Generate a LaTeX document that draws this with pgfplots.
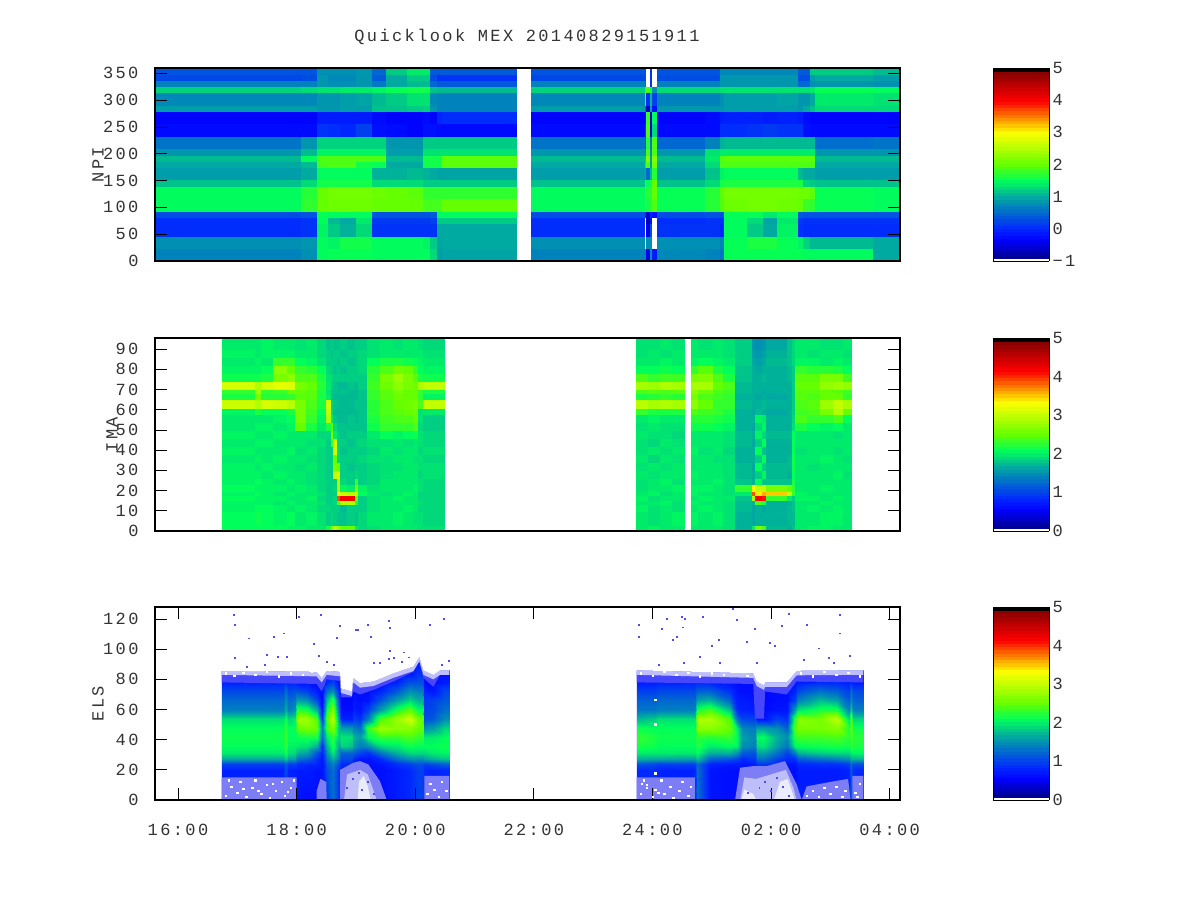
\documentclass[border=0pt]{standalone}
\usepackage{fontspec}
\setmainfont[LetterSpace=14]{Liberation Mono}
\usepackage{pgfplots}
\pgfplotsset{compat=1.18}
\newcommand\gridrow[1]{\numexpr(2*\coordindex+1-#1)/(2*#1)\relax}
\newcommand\gridcol[1]{\numexpr\coordindex-#1*((2*\coordindex+1-#1)/(2*#1))\relax}
\definecolor{txt}{gray}{0.2}
\definecolor{spk}{RGB}{125,125,245}
\definecolor{spkd}{RGB}{70,70,250}
\definecolor{spkb}{RGB}{190,190,250}
\definecolor{spkc}{RGB}{235,235,255}
\pgfplotsset{
  colormap={mex}{rgb255(0)=(255,255,255); rgb255(13)=(255,255,255); rgb255(14)=(0,0,139); rgb255(110)=(0,0,255); rgb255(170)=(0,40,255); rgb255(333)=(0,170,160); rgb255(420)=(0,255,90); rgb255(500)=(100,255,0); rgb255(667)=(255,255,0); rgb255(830)=(255,0,0); rgb255(975)=(139,0,0); rgb255(976)=(0,0,0); rgb255(1000)=(0,0,0)},
  panel/.style={at={(155pt,#1)},anchor=south west,width=745pt,height=193pt,scale only axis,
    xmin=15.612,xmax=28.175,axis on top,xtick=\empty,tick align=inside,
    ticklabel style={font=\fontsize{17}{17}\selectfont,text=txt},
    yticklabel style={xshift=-13pt},
    label style={font=\fontsize{17}{17}\selectfont,text=txt},
    major tick length=12pt,
    /pgf/number format/assume math mode=true,
    axis line style={line width=1.2pt},
    tick style={line width=.7pt,black},
    colorbar,colorbar sampled,
    colorbar style={at={(1.1248,0)},anchor=south west,width=56pt,height=193pt,
      samples=60,major tick length=0pt,yticklabel pos=right,
      ticklabel style={font=\fontsize{17}{17}\selectfont,text=txt},
      yticklabel style={xshift=0pt},
      /pgf/number format/assume math mode=true,
      axis line style={line width=.5pt}},
  },
  cell/.style={surf,shader=flat corner,point meta=explicit},
  /pgfplots/table/grid/.style={row sep=crcr,header=false,meta index=0,x expr={\xs{\gridcol{#1}}},y expr={\ys{\gridrow{#1}}}},
  /pgfplots/table/gridy/.style={row sep=crcr,header=false,meta index=0,x expr={\xs{\gridrow{#1}}},y expr={\ys{\gridcol{#1}}}},
  speck/.style={only marks,mark=square*,mark size=.45pt,color=#1},
}
\begin{document}
\begin{tikzpicture}[x=1pt,y=1pt]
\path[use as bounding box] (0,0) rectangle (1200pt,900pt);
\node[font=\fontsize{17}{17}\selectfont,text=txt] at (527pt,863pt) {Quicklook MEX 20140829151911};

% NPI
\begin{axis}[panel=639pt,ymin=0,ymax=360,ytick={0,50,...,350},ylabel={NPI},
  ylabel style={at={(axis description cs:-0.0765,0.5)},anchor=center},
  point meta min=-1,point meta max=5,
  colorbar style={ytick={-1,0,...,5},yticklabels={−1,0,1,2,3,4,5}}]
\def\ys#1{\ifcase#1 0\or 23\or 46\or 70\or 81\or 93\or 117\or 140\or 152\or 175\or 187\or 198\or 210\or 233\or 257\or 280\or 291\or 315\or 326\or 338\or 349\or 360\fi}
\def\xs#1{\ifcase#1 15.612\or 18.069\or 18.339\or 18.535\or 18.732\or 19.013\or 19.267\or 19.519\or 19.857\or 20.137\or 20.250\or 20.363\or 20.447\or 21.700\fi}
\addplot[cell,mesh/cols=14] table[grid=14]{
0.7\\0.8\\1.5\\1.55\\1.55\\1.55\\1.5\\1.5\\1.5\\1.5\\1.3\\0.9\\0.95\\0\\
0.8\\0.85\\1.5\\1.45\\1.6\\1.6\\1.5\\1.5\\1.5\\1.45\\1.2\\0.95\\1.0\\0\\
0.05\\0.1\\1.45\\1.2\\1.05\\1.3\\0.1\\0.1\\0.1\\0.1\\0.1\\1.0\\1.0\\0\\
0.05\\0.1\\1.5\\1.1\\1.0\\1.4\\0.15\\0.15\\0.15\\0.15\\0.2\\1.2\\1.2\\0\\
0.3\\0.35\\1.55\\1.5\\1.5\\1.5\\0.35\\0.35\\0.35\\0.35\\0.4\\1.5\\1.5\\0\\
1.5\\1.75\\2.0\\2.05\\2.05\\2.05\\2.0\\2.0\\2.0\\1.85\\1.85\\1.85\\2.0\\0\\
1.5\\1.7\\2.0\\2.1\\2.1\\2.1\\2.05\\2.0\\1.95\\1.75\\1.75\\1.75\\1.75\\0\\
1.15\\1.3\\1.6\\1.6\\1.6\\1.6\\1.3\\1.3\\1.3\\1.2\\1.2\\1.2\\1.2\\0\\
0.9\\1.0\\1.5\\1.5\\1.5\\1.5\\1.05\\1.05\\1.1\\1.05\\1.0\\0.95\\0.95\\0\\
1.0\\1.1\\1.85\\1.9\\1.9\\1.6\\1.55\\1.0\\1.0\\1.6\\1.6\\1.6\\1.95\\0\\
1.1\\1.5\\1.9\\1.9\\1.9\\1.9\\1.9\\1.1\\1.1\\1.6\\1.6\\1.6\\1.95\\0\\
0.85\\1.1\\1.45\\1.45\\1.45\\1.45\\1.45\\0.9\\0.9\\1.35\\1.35\\1.35\\1.35\\0\\
0.6\\0.85\\1.25\\1.25\\1.25\\1.25\\1.25\\0.85\\0.85\\1.2\\1.2\\1.2\\1.2\\0\\
-0.25\\-0.25\\0.1\\0.05\\0.0\\0.2\\-0.2\\-0.25\\-0.3\\-0.2\\-0.2\\-0.25\\-0.25\\0\\
-0.3\\-0.3\\-0.1\\-0.1\\-0.1\\-0.1\\-0.25\\-0.3\\-0.3\\-0.25\\-0.3\\0.0\\0.05\\0\\
0.9\\0.9\\0.85\\0.85\\0.9\\0.9\\1.15\\1.15\\1.2\\1.25\\0.85\\0.7\\0.7\\0\\
0.75\\0.75\\0.85\\0.85\\0.9\\0.95\\1.1\\1.2\\1.35\\1.35\\0.75\\0.7\\0.7\\0\\
1.25\\1.3\\1.35\\1.35\\1.4\\1.4\\1.45\\1.55\\1.6\\1.6\\1.15\\1.1\\1.1\\0\\
0.7\\0.7\\0.85\\0.8\\0.8\\0.85\\0.65\\1.0\\1.1\\1.1\\0.5\\0.4\\0.4\\0\\
0.25\\0.3\\0.85\\0.75\\0.75\\0.85\\0.4\\1.0\\1.2\\1.2\\0.3\\0.1\\0.1\\0\\
0.35\\0.35\\0.8\\0.8\\0.8\\0.85\\0.5\\1.2\\1.4\\1.4\\0.4\\0.4\\0.4\\0\\
0\\0\\0\\0\\0\\0\\0\\0\\0\\0\\0\\0\\0\\0\\
};
\def\xs#1{\ifcase#1 21.953\or 23.875\fi}
\addplot[cell,mesh/cols=2] table[grid=2]{
0.7\\0\\0.8\\0\\0.05\\0\\0.05\\0\\0.3\\0\\1.5\\0\\1.5\\0\\1.15\\0\\0.9\\0\\1.0\\0\\1.1\\0\\
0.85\\0\\0.6\\0\\-0.25\\0\\-0.3\\0\\0.9\\0\\0.75\\0\\1.25\\0\\0.7\\0\\0.25\\0\\0.35\\0\\0\\0\\
};
\def\xs#1{\ifcase#1 23.875\or 23.90\or 23.96\or 24.00\or 24.083\fi}
\addplot[cell,mesh/cols=5] table[grid=5]{
0.7\\-0.4\\0.8\\-0.1\\0\\
-1\\0.8\\0.8\\-1\\0\\
-1\\-0.5\\0.3\\-1\\0\\
-1\\-0.7\\-0.2\\-1\\0\\
0.1\\-0.6\\0.0\\-0.2\\0\\
1.9\\1.6\\1.7\\1.9\\0\\
2.0\\1.7\\1.7\\2.0\\0\\
1.7\\1.5\\1.6\\2.0\\0\\
1.0\\0.5\\1.1\\1.7\\0\\
1.4\\1.9\\0.9\\2.1\\0\\
1.2\\2.2\\0.9\\2.2\\0\\
0.8\\1.9\\0.8\\1.9\\0\\
0.3\\1.7\\0.6\\1.9\\0\\
0.1\\1.9\\-0.5\\1.3\\0\\
-0.2\\1.8\\-0.6\\1.5\\0\\
0.5\\-0.6\\0.9\\-0.2\\0\\
1.9\\0.1\\1.1\\0.2\\0\\
1.7\\1.9\\1.6\\0.8\\0\\
0.6\\-1\\0.1\\-1\\0\\
0.3\\-1\\0.1\\-1\\0\\
0.3\\-1\\0.1\\-1\\0\\
0\\0\\0\\0\\0\\
};
\def\xs#1{\ifcase#1 24.083\or 24.887\or 25.140\or 25.207\or 25.590\or 25.870\or 26.096\or 26.460\or 26.545\or 26.658\or 26.742\or 27.725\or 28.175\fi}
\addplot[cell,mesh/cols=13] table[grid=13]{
0.75\\0.7\\0.6\\1.55\\1.55\\1.55\\1.55\\1.55\\1.5\\1.5\\1.5\\1.0\\0\\
0.8\\0.8\\0.7\\1.55\\1.65\\1.65\\1.55\\1.45\\1.25\\1.1\\1.1\\1.0\\0\\
0.1\\0.1\\0.0\\1.5\\1.2\\1.0\\1.45\\0.1\\0.05\\0.05\\0.05\\0.05\\0\\
0.05\\0.1\\0.05\\1.5\\1.3\\0.95\\1.4\\0.15\\0.1\\0.1\\0.1\\0.1\\0\\
0.3\\0.35\\0.3\\1.55\\1.55\\1.4\\1.5\\0.4\\0.35\\0.35\\0.35\\0.35\\0\\
1.55\\1.7\\1.9\\2.05\\2.1\\2.1\\2.05\\2.0\\1.8\\1.75\\1.55\\1.5\\0\\
1.55\\1.7\\1.95\\2.1\\2.1\\2.1\\2.1\\2.05\\2.05\\1.95\\1.55\\1.5\\0\\
1.15\\1.3\\1.6\\1.65\\1.65\\1.65\\1.65\\1.65\\1.25\\1.2\\1.15\\1.15\\0\\
0.9\\1.15\\1.45\\1.5\\1.5\\1.5\\1.5\\1.1\\1.0\\1.0\\0.9\\0.9\\0\\
1.0\\1.3\\1.9\\1.9\\1.9\\1.9\\1.9\\1.9\\1.9\\1.9\\1.0\\1.0\\0\\
1.1\\1.4\\1.9\\1.95\\1.95\\1.95\\1.95\\1.95\\1.95\\1.95\\1.1\\1.1\\0\\
0.85\\1.35\\1.4\\1.4\\1.4\\1.4\\1.4\\1.4\\1.4\\1.4\\0.85\\0.85\\0\\
0.5\\0.7\\1.05\\1.1\\1.1\\1.1\\1.1\\1.1\\1.1\\1.1\\0.55\\0.6\\0\\
-0.25\\-0.25\\0.05\\0.05\\0.1\\0.15\\0.1\\0.1\\-0.2\\-0.25\\-0.25\\-0.25\\0\\
-0.3\\-0.25\\-0.1\\-0.05\\-0.05\\-0.1\\-0.05\\-0.1\\-0.25\\-0.3\\-0.3\\-0.3\\0\\
0.85\\0.85\\0.85\\0.9\\0.9\\0.9\\0.9\\0.85\\1.0\\1.15\\1.3\\1.3\\0\\
0.7\\0.7\\0.8\\0.9\\0.9\\0.9\\0.95\\0.85\\0.85\\1.0\\1.4\\1.35\\0\\
1.3\\1.3\\1.35\\1.35\\1.35\\1.35\\1.35\\1.35\\1.35\\1.4\\1.55\\1.5\\0\\
0.7\\0.7\\0.85\\0.85\\0.85\\0.85\\0.85\\0.5\\0.5\\0.8\\0.85\\0.8\\0\\
0.3\\0.3\\0.85\\0.85\\0.85\\0.85\\0.85\\0.3\\0.3\\0.9\\1.0\\0.9\\0\\
0.35\\0.35\\0.75\\0.75\\0.75\\0.75\\0.75\\0.4\\0.4\\1.2\\1.2\\1.1\\0\\
0\\0\\0\\0\\0\\0\\0\\0\\0\\0\\0\\0\\0\\
};
\end{axis}

% IMA
\begin{axis}[panel=369pt,ymin=0,ymax=95.5,ytick={0,10,...,90},ylabel={IMA},
  ylabel style={at={(axis description cs:-0.0577,0.5)},anchor=center},
  point meta min=0,point meta max=5]
\def\ys#1{\ifcase#1 1\or 3\or 10\or 13.5\or 15\or 17.5\or 19.5\or 23\or 26\or 30\or 34\or 38\or 42\or 46\or 50\or 54\or 58\or 61\or 65\or 68\or 70\or 74\or 78\or 82\or 86\or 90\or 96\fi}
\def\xs#1{\ifcase#1 16.737\or 17.298\or 17.395\or 17.607\or 17.833\or 17.973\or 18.170\or 18.339\or 18.496\or 18.575\or 18.619\or 18.686\or 18.732\or 18.845\or 18.985\or 19.040\or 19.182\or 19.406\or 19.631\or 19.799\or 19.968\or 20.052\or 20.137\or 20.486\fi}
\addplot[cell,mesh/cols=24] table[grid=24]{
2.1\\2.1\\2.1\\2.1\\2.05\\2.05\\2.0\\2.0\\2.2\\2.7\\2.9\\2.7\\2.5\\2.5\\2.0\\1.9\\1.95\\2.0\\2.0\\2.0\\2.0\\1.95\\1.95\\0\\
2.1\\2.15\\2.1\\2.05\\2.1\\2.0\\2.05\\1.95\\1.85\\1.9\\1.85\\1.8\\1.8\\1.85\\1.8\\1.9\\2.0\\2.0\\2.05\\2.0\\1.95\\1.95\\1.9\\0\\
2.05\\2.1\\2.1\\2.05\\2.0\\2.05\\2.0\\1.9\\1.9\\1.85\\1.85\\1.85\\1.75\\1.85\\1.85\\1.85\\1.95\\2.0\\2.0\\2.05\\2.0\\1.9\\1.9\\0\\
2.05\\2.05\\2.05\\2.0\\2.05\\2.0\\2.0\\1.95\\1.85\\1.85\\1.9\\2.4\\2.9\\2.9\\2.2\\1.85\\1.95\\2.0\\2.0\\2.0\\2.0\\1.95\\1.9\\0\\
2.1\\2.05\\2.05\\2.05\\2.0\\2.0\\2.05\\1.9\\1.85\\1.85\\1.9\\3.9\\4.2\\4.2\\2.5\\1.85\\1.95\\2.0\\2.05\\2.0\\2.0\\1.9\\1.9\\0\\
2.05\\2.1\\2.05\\2.0\\2.05\\2.0\\2.0\\1.95\\1.85\\1.85\\1.85\\3.4\\3.0\\2.9\\3.0\\2.1\\2.0\\1.95\\2.0\\2.05\\2.0\\1.9\\1.9\\0\\
2.1\\2.05\\2.05\\2.05\\2.0\\2.05\\2.0\\1.9\\1.85\\1.85\\1.9\\3.0\\2.05\\2.0\\2.7\\2.05\\1.95\\2.0\\2.0\\2.0\\2.05\\1.95\\1.9\\0\\
2.05\\2.1\\2.05\\2.0\\2.05\\2.0\\1.95\\1.9\\1.85\\1.85\\1.85\\2.9\\1.9\\1.85\\2.3\\1.85\\1.9\\2.0\\2.0\\2.0\\2.0\\1.95\\1.9\\0\\
2.05\\2.05\\2.0\\2.05\\2.0\\2.0\\1.95\\1.9\\1.85\\1.8\\3.0\\3.1\\1.85\\1.85\\1.9\\1.85\\1.9\\1.95\\2.0\\2.0\\2.0\\1.9\\1.95\\0\\
2.05\\2.0\\2.05\\2.0\\2.0\\1.95\\2.0\\1.9\\1.85\\1.85\\2.6\\2.5\\1.85\\1.8\\1.85\\1.85\\1.9\\1.95\\1.95\\2.0\\2.0\\1.95\\1.95\\0\\
2.0\\2.05\\2.0\\2.05\\2.0\\2.0\\1.95\\1.9\\1.85\\1.85\\2.5\\1.9\\1.85\\1.85\\1.85\\1.9\\1.95\\1.95\\2.0\\2.0\\1.95\\1.95\\1.9\\0\\
2.05\\2.0\\2.0\\2.0\\2.05\\1.95\\2.0\\1.9\\1.85\\1.85\\3.1\\1.9\\1.8\\1.85\\1.85\\1.85\\1.9\\2.0\\1.95\\2.0\\2.0\\1.9\\1.95\\0\\
2.0\\2.05\\2.05\\2.0\\2.0\\2.0\\1.95\\1.95\\1.85\\2.3\\3.1\\1.85\\1.85\\1.8\\1.85\\1.9\\1.95\\1.95\\2.0\\1.95\\2.0\\1.95\\1.9\\0\\
2.05\\2.0\\2.0\\2.05\\2.0\\2.0\\2.0\\1.9\\1.9\\2.6\\2.0\\1.85\\1.8\\1.85\\1.85\\1.85\\2.0\\2.1\\2.05\\2.1\\2.15\\1.95\\1.9\\0\\
2.0\\2.05\\2.05\\2.0\\2.05\\2.5\\2.2\\2.0\\2.2\\2.5\\1.9\\1.8\\1.8\\1.8\\1.8\\1.8\\2.15\\2.3\\2.3\\2.3\\2.4\\1.9\\1.85\\0\\
2.0\\2.0\\2.0\\2.05\\2.1\\2.6\\2.3\\2.05\\2.9\\2.0\\1.8\\1.75\\1.75\\1.8\\1.75\\1.8\\2.2\\2.35\\2.4\\2.4\\2.5\\1.95\\1.85\\0\\
2.05\\2.2\\2.1\\2.1\\2.2\\2.6\\2.35\\2.1\\3.0\\1.9\\1.75\\1.75\\1.75\\1.75\\1.75\\1.8\\2.25\\2.4\\2.45\\2.5\\2.55\\1.95\\2.0\\0\\
3.05\\2.9\\3.1\\3.05\\2.95\\2.6\\2.4\\2.2\\3.1\\1.85\\1.8\\1.75\\1.75\\1.75\\1.8\\1.8\\2.25\\2.4\\2.5\\2.55\\2.6\\2.4\\3.0\\0\\
2.2\\2.6\\2.25\\2.25\\2.3\\2.45\\2.45\\2.2\\2.0\\1.8\\1.75\\1.75\\1.75\\1.75\\1.75\\1.8\\2.3\\2.45\\2.55\\2.5\\2.5\\2.3\\2.05\\0\\
2.3\\2.8\\2.3\\2.35\\2.55\\2.5\\2.45\\2.2\\1.95\\1.8\\1.8\\1.75\\1.8\\1.75\\1.75\\1.8\\2.3\\2.45\\2.6\\2.5\\2.55\\2.3\\2.2\\0\\
3.1\\2.9\\3.1\\3.2\\3.15\\2.6\\2.5\\2.25\\2.0\\1.85\\1.8\\1.75\\1.75\\1.8\\1.75\\1.85\\2.35\\2.55\\2.7\\2.6\\2.55\\2.9\\3.0\\0\\
2.15\\2.15\\2.2\\2.6\\2.7\\2.4\\2.4\\2.2\\1.95\\1.9\\1.85\\1.85\\1.85\\1.85\\1.85\\1.85\\2.3\\2.6\\2.8\\2.6\\2.45\\2.2\\2.15\\0\\
2.05\\2.05\\2.1\\2.7\\2.5\\2.3\\2.25\\2.1\\1.9\\1.85\\1.8\\1.85\\1.8\\1.85\\1.85\\1.9\\2.25\\2.4\\2.55\\2.5\\2.3\\2.1\\2.05\\0\\
2.0\\2.05\\2.0\\2.3\\2.3\\2.1\\2.05\\1.95\\1.85\\1.85\\1.85\\1.8\\1.85\\1.8\\1.85\\1.9\\2.1\\2.2\\2.2\\2.15\\2.1\\2.05\\2.0\\0\\
2.05\\2.0\\2.05\\2.05\\2.05\\2.0\\2.0\\1.9\\1.85\\1.8\\1.85\\1.85\\1.8\\1.85\\1.85\\1.9\\1.95\\2.0\\2.0\\2.0\\2.0\\2.0\\1.95\\0\\
2.0\\2.0\\2.05\\2.0\\2.0\\1.95\\2.0\\1.9\\1.8\\1.85\\1.8\\1.8\\1.85\\1.8\\1.85\\1.85\\1.95\\2.0\\1.95\\2.0\\2.0\\1.95\\1.9\\0\\
0\\0\\0\\0\\0\\0\\0\\0\\0\\0\\0\\0\\0\\0\\0\\0\\0\\0\\0\\0\\0\\0\\0\\0\\
};
\def\xs#1{\ifcase#1 23.723\or 23.926\or 24.128\or 24.331\or 24.533\fi}
\addplot[cell,mesh/cols=5] table[grid=5]{
2.0\\2.05\\2.0\\2.0\\0\\
2.0\\1.95\\2.0\\2.05\\0\\
2.05\\1.95\\2.0\\1.95\\0\\
2.0\\2.0\\2.05\\1.95\\0\\
2.05\\1.95\\2.0\\2.0\\0\\
2.0\\2.05\\1.95\\2.0\\0\\
1.95\\2.0\\2.0\\2.05\\0\\
1.95\\2.0\\2.05\\1.95\\0\\
2.0\\1.95\\2.0\\2.0\\0\\
1.95\\2.0\\1.95\\2.0\\0\\
2.0\\1.9\\2.0\\1.95\\0\\
1.95\\2.0\\1.95\\2.0\\0\\
1.95\\1.9\\2.0\\1.95\\0\\
2.0\\1.95\\1.95\\1.9\\0\\
1.95\\2.0\\1.95\\1.95\\0\\
2.0\\2.05\\2.0\\2.0\\0\\
2.3\\2.2\\2.2\\2.2\\0\\
2.95\\2.85\\2.9\\2.85\\0\\
2.2\\2.25\\2.3\\2.25\\0\\
2.4\\2.45\\2.4\\2.45\\0\\
2.85\\2.8\\2.9\\2.85\\0\\
2.4\\2.3\\2.35\\2.35\\0\\
2.1\\2.1\\2.15\\2.1\\0\\
2.0\\2.0\\2.05\\2.0\\0\\
1.95\\2.0\\1.95\\2.0\\0\\
1.95\\1.95\\2.0\\1.95\\0\\
0\\0\\0\\0\\0\\
};
\def\xs#1{\ifcase#1 24.651\or 24.774\or 25.027\or 25.196\or 25.393\or 25.675\or 25.730\or 25.843\or 25.927\or 26.265\or 26.349\or 26.405\or 26.602\or 26.826\or 27.050\or 27.218\or 27.360\fi}
\addplot[cell,mesh/cols=17] table[grid=17]{
2.0\\2.0\\2.0\\1.95\\1.7\\2.0\\2.6\\2.4\\1.75\\1.7\\1.8\\2.0\\2.05\\2.05\\2.0\\2.0\\0\\
2.05\\2.0\\2.05\\1.95\\1.7\\1.65\\1.7\\1.7\\1.7\\1.75\\1.75\\2.0\\2.0\\2.05\\2.05\\2.0\\0\\
2.0\\2.05\\2.0\\1.95\\1.75\\1.65\\1.7\\1.65\\1.7\\1.75\\1.8\\2.0\\2.05\\2.0\\2.05\\2.0\\0\\
2.05\\2.0\\2.0\\1.95\\1.75\\1.7\\2.4\\2.2\\1.7\\1.7\\1.8\\2.0\\2.0\\2.05\\2.0\\2.0\\0\\
2.0\\2.05\\2.0\\2.0\\1.8\\2.9\\4.2\\4.1\\2.3\\2.0\\1.85\\2.05\\2.05\\2.0\\2.05\\2.0\\0\\
2.05\\2.0\\2.0\\1.95\\2.0\\3.9\\3.4\\3.6\\3.5\\3.0\\2.3\\2.05\\2.0\\2.0\\2.0\\2.0\\0\\
2.05\\2.05\\2.0\\1.95\\2.3\\3.3\\3.0\\3.0\\2.6\\2.5\\2.3\\2.0\\2.0\\2.05\\2.0\\2.0\\0\\
2.0\\2.0\\2.05\\1.95\\1.8\\1.7\\2.1\\1.8\\1.8\\1.8\\2.2\\2.0\\2.0\\2.0\\2.0\\2.0\\0\\
2.05\\2.0\\2.0\\1.95\\1.75\\1.7\\1.85\\2.05\\1.75\\1.7\\2.1\\2.0\\2.0\\2.0\\2.05\\1.95\\0\\
2.0\\2.0\\2.0\\1.95\\1.75\\1.65\\2.1\\1.85\\1.75\\1.75\\2.15\\2.0\\1.95\\2.0\\2.0\\2.0\\0\\
2.0\\2.0\\1.95\\1.95\\1.7\\1.7\\1.85\\2.1\\1.7\\1.75\\2.15\\2.0\\2.0\\2.05\\2.0\\1.95\\0\\
2.05\\1.95\\2.0\\1.9\\1.7\\1.7\\2.1\\1.8\\1.7\\1.7\\2.1\\1.95\\2.0\\2.0\\1.95\\2.0\\0\\
2.0\\2.0\\2.0\\1.95\\1.75\\1.65\\1.85\\2.1\\1.7\\1.7\\2.1\\2.0\\2.0\\2.0\\2.0\\2.0\\0\\
2.0\\2.0\\2.0\\1.95\\1.75\\1.7\\2.05\\1.9\\1.75\\1.75\\2.1\\2.0\\2.0\\2.0\\1.95\\2.0\\0\\
2.15\\2.15\\2.1\\2.05\\1.7\\1.65\\1.9\\2.05\\1.7\\1.7\\1.95\\2.2\\2.1\\2.05\\2.1\\2.0\\0\\
2.25\\2.25\\2.2\\2.15\\1.7\\1.7\\2.05\\2.0\\1.7\\1.7\\1.9\\2.4\\2.3\\2.3\\2.4\\2.1\\0\\
2.4\\2.35\\2.3\\2.2\\1.7\\1.65\\1.75\\1.7\\1.65\\1.7\\1.85\\2.35\\2.4\\2.6\\2.9\\2.5\\0\\
2.7\\2.5\\2.3\\2.3\\1.75\\1.7\\1.7\\1.75\\1.7\\1.7\\1.85\\2.4\\2.45\\2.8\\3.0\\2.85\\0\\
2.6\\2.4\\2.35\\2.3\\1.7\\1.7\\1.65\\1.7\\1.65\\1.7\\1.85\\2.45\\2.4\\2.5\\2.5\\2.3\\0\\
2.7\\2.55\\2.4\\2.35\\1.75\\1.7\\1.7\\1.65\\1.7\\1.7\\1.85\\2.45\\2.45\\2.5\\2.45\\2.35\\0\\
2.85\\2.85\\2.5\\2.4\\1.75\\1.7\\1.7\\1.7\\1.7\\1.7\\1.85\\2.5\\2.5\\2.75\\2.8\\2.75\\0\\
2.6\\2.65\\2.4\\2.2\\1.8\\1.7\\1.7\\1.75\\1.7\\1.75\\1.85\\2.45\\2.45\\2.6\\2.6\\2.35\\0\\
2.3\\2.45\\2.2\\2.1\\1.8\\1.7\\1.65\\1.7\\1.7\\1.75\\1.85\\2.3\\2.25\\2.25\\2.2\\2.1\\0\\
2.05\\2.1\\2.05\\2.0\\1.85\\1.65\\1.6\\1.65\\1.75\\1.8\\1.9\\2.05\\2.05\\2.0\\2.05\\2.0\\0\\
2.0\\2.0\\2.0\\1.95\\1.85\\1.6\\1.55\\1.6\\1.7\\1.8\\1.9\\2.0\\1.95\\2.0\\2.0\\1.95\\0\\
2.0\\1.95\\2.0\\1.95\\1.85\\1.55\\1.5\\1.55\\1.65\\1.8\\1.9\\2.0\\2.0\\1.95\\1.95\\2.0\\0\\
0\\0\\0\\0\\0\\0\\0\\0\\0\\0\\0\\0\\0\\0\\0\\0\\0\\
};
\end{axis}

% ELS
\begin{axis}[panel=100pt,ymin=0,ymax=128,ytick={0,20,...,120},ylabel={ELS},
  ylabel style={at={(axis description cs:-0.0765,0.5)},anchor=center},
  point meta min=0,point meta max=5,
  xtick={16,18,...,28},xticklabels={16:00,18:00,20:00,22:00,24:00,02:00,04:00},xtick pos=both,
  xticklabel style={yshift=-21pt}]
\def\ys#1{\ifcase#1 0\or 20\or 24\or 27\or 31\or 36\or 42\or 48\or 54\or 60\or 66\or 72\or 78\or 84\or 95\fi}
\def\xs#1{\ifcase#1 16.736\or 17.776\or 17.821\or 17.861\or 17.973\or 18.012\or 18.170\or 18.338\or 18.423\or 18.507\or 18.619\or 18.715\or 18.749\or 18.929\or 18.957\or 19.069\or 19.210\or 19.406\or 19.687\or 19.912\or 20.053\or 20.137\or 20.154\or 20.306\or 20.503\or 20.576\fi}
\addplot[surf,shader=interp,point meta=explicit,mesh/cols=26,mesh/rows=15,mesh/ordering=y varies] table[gridy=15]{
0.8\\0.8\\1.0\\1.65\\2.0\\2.1\\2.15\\2.1\\1.95\\1.4\\1.25\\1.05\\0.8\\0.65\\0.65\\
0.8\\0.8\\1.0\\1.65\\2.0\\2.1\\2.15\\2.1\\1.95\\1.4\\1.25\\1.05\\0.8\\0.65\\0.65\\
1.1\\1.1\\1.2\\1.85\\2.2\\2.3\\2.35\\2.3\\2.15\\1.7\\1.5\\1.3\\0.9\\0.65\\0.65\\
0.8\\0.8\\1.0\\1.6\\1.95\\2.05\\2.1\\2.1\\1.9\\1.4\\1.25\\1.05\\0.8\\0.65\\0.65\\
0.8\\0.8\\1.0\\1.6\\1.9\\2.05\\2.1\\2.1\\2.0\\1.5\\1.3\\1.1\\0.8\\0.65\\0.65\\
0.7\\0.75\\0.9\\1.3\\1.7\\2.0\\2.15\\2.5\\2.85\\2.3\\1.6\\1.1\\0.7\\0.65\\0.65\\
0.65\\0.75\\0.85\\1.2\\1.6\\1.95\\2.2\\2.6\\2.8\\2.2\\1.5\\1.0\\0.7\\0.65\\0.65\\
0.65\\0.7\\0.8\\0.9\\1.1\\1.7\\2.2\\2.5\\2.4\\1.7\\1.05\\0.75\\0.65\\0.65\\0.65\\
0.65\\0.7\\0.7\\0.7\\0.8\\0.9\\1.3\\1.4\\1.0\\0.75\\0.65\\0.65\\0.65\\0.65\\0.65\\
1.0\\1.1\\1.2\\1.35\\1.55\\1.75\\2.0\\2.4\\2.5\\2.2\\1.8\\1.3\\0.85\\0.65\\0.65\\
1.3\\1.3\\1.4\\1.7\\2.0\\2.2\\2.3\\2.7\\3.0\\2.7\\2.3\\1.5\\1.0\\0.7\\0.65\\
0.9\\0.9\\1.05\\1.3\\1.45\\1.6\\1.8\\1.7\\1.5\\1.2\\1.0\\0.85\\0.7\\0.65\\0.65\\
0.8\\0.8\\0.85\\1.05\\1.2\\1.9\\2.0\\1.6\\0.8\\0.65\\0.6\\0.6\\0.6\\0.6\\0.6\\
0.8\\0.8\\0.85\\1.05\\1.2\\1.8\\1.95\\1.55\\0.8\\0.65\\0.6\\0.6\\0.6\\0.6\\0.6\\
0.7\\0.7\\0.75\\0.85\\1.2\\1.6\\1.7\\1.4\\1.0\\0.8\\0.7\\0.65\\0.65\\0.65\\0.65\\
0.65\\0.65\\0.65\\0.7\\1.0\\1.4\\1.6\\1.3\\0.9\\0.7\\0.65\\0.65\\0.65\\0.65\\0.65\\
0.65\\0.65\\0.65\\0.7\\0.9\\1.5\\2.1\\2.3\\1.4\\1.0\\0.7\\0.65\\0.65\\0.65\\0.65\\
0.65\\0.65\\0.7\\0.85\\1.3\\1.9\\2.3\\2.8\\2.4\\1.6\\1.1\\0.8\\0.65\\0.65\\0.65\\
0.75\\0.75\\0.9\\1.3\\1.7\\2.0\\2.3\\2.7\\2.8\\2.2\\1.6\\1.15\\0.8\\0.65\\0.65\\
0.85\\0.85\\1.0\\1.5\\1.9\\2.15\\2.4\\2.7\\3.1\\2.5\\1.9\\1.5\\1.1\\0.7\\0.65\\
1.0\\1.0\\1.1\\1.5\\1.9\\2.1\\2.3\\2.5\\2.6\\2.1\\1.7\\1.4\\1.1\\0.9\\0.65\\
1.0\\1.0\\1.1\\1.5\\1.9\\2.1\\2.3\\2.5\\2.5\\2.1\\1.7\\1.4\\1.1\\0.9\\0.65\\
0.85\\0.85\\1.0\\1.6\\1.9\\2.1\\2.0\\1.5\\1.1\\1.0\\0.95\\0.8\\0.65\\0.65\\0.65\\
0.8\\0.8\\1.1\\1.7\\2.0\\2.1\\2.0\\1.6\\1.15\\1.05\\1.0\\0.7\\0.65\\0.65\\0.65\\
0.85\\0.85\\1.2\\1.8\\2.05\\2.15\\2.1\\1.9\\1.5\\1.3\\1.15\\1.05\\0.75\\0.65\\0.65\\
0.85\\0.85\\1.2\\1.8\\2.05\\2.15\\2.1\\1.9\\1.5\\1.3\\1.15\\1.05\\0.75\\0.65\\0.65\\
};
\def\xs#1{\ifcase#1 23.734\or 24.044\or 24.100\or 24.718\or 24.746\or 24.971\or 25.308\or 25.421\or 25.505\or 25.730\or 25.758\or 25.882\or 26.096\or 26.264\or 26.405\or 26.461\or 26.826\or 27.107\or 27.321\or 27.355\or 27.389\or 27.557\fi}
\addplot[surf,shader=interp,point meta=explicit,mesh/cols=22,mesh/rows=15,mesh/ordering=y varies] table[gridy=15]{
0.85\\0.85\\1.1\\1.7\\2.0\\2.2\\2.3\\2.15\\1.75\\1.35\\1.2\\1.0\\0.75\\0.65\\0.65\\
0.85\\0.85\\1.05\\1.65\\2.0\\2.15\\2.2\\2.1\\1.85\\1.35\\1.2\\1.0\\0.75\\0.65\\0.65\\
0.8\\0.8\\1.0\\1.65\\2.0\\2.1\\2.15\\2.1\\1.95\\1.4\\1.25\\1.05\\0.8\\0.65\\0.65\\
0.8\\0.8\\1.0\\1.6\\2.0\\2.1\\2.15\\2.1\\1.95\\1.4\\1.25\\1.05\\0.8\\0.65\\0.65\\
1.3\\1.3\\1.3\\1.8\\2.1\\2.25\\2.3\\2.7\\2.9\\2.2\\1.6\\1.2\\0.85\\0.65\\0.65\\
0.7\\0.7\\0.8\\1.2\\1.7\\2.0\\2.25\\2.7\\2.9\\2.4\\1.7\\1.2\\0.8\\0.65\\0.65\\
0.65\\0.65\\0.75\\1.1\\1.7\\2.1\\2.3\\2.5\\2.4\\1.8\\1.2\\0.9\\0.7\\0.65\\0.65\\
0.65\\0.65\\0.75\\1.0\\1.5\\2.05\\2.1\\2.0\\1.3\\0.85\\0.75\\0.7\\0.65\\0.65\\0.65\\
0.65\\0.65\\0.7\\0.85\\1.15\\1.5\\1.6\\1.45\\1.05\\0.8\\0.75\\0.65\\0.65\\0.65\\0.65\\
0.7\\0.7\\0.8\\0.95\\1.1\\1.4\\1.45\\1.35\\1.0\\0.75\\0.7\\0.65\\0.65\\0.65\\0.65\\
0.85\\0.85\\0.95\\1.3\\1.6\\1.95\\2.1\\1.6\\0.7\\0.6\\0.6\\0.6\\0.6\\0.6\\0.6\\
0.85\\0.85\\0.95\\1.3\\1.6\\1.95\\2.1\\1.6\\0.7\\0.6\\0.6\\0.6\\0.6\\0.6\\0.6\\
0.7\\0.7\\0.8\\1.0\\1.3\\1.6\\1.7\\1.5\\1.0\\0.7\\0.65\\0.65\\0.65\\0.65\\0.65\\
0.65\\0.65\\0.7\\0.85\\1.0\\1.35\\1.5\\1.2\\0.9\\0.7\\0.65\\0.65\\0.65\\0.65\\0.65\\
0.65\\0.65\\0.7\\0.9\\1.4\\2.05\\2.3\\2.5\\2.3\\1.6\\1.0\\0.8\\0.65\\0.65\\0.65\\
0.75\\0.75\\0.85\\1.15\\1.7\\2.1\\2.35\\2.6\\2.7\\2.0\\1.4\\1.05\\0.75\\0.65\\0.65\\
0.75\\0.75\\0.9\\1.3\\1.85\\2.15\\2.35\\2.6\\2.6\\2.2\\1.75\\1.3\\0.85\\0.65\\0.65\\
0.75\\0.75\\0.9\\1.4\\1.9\\2.2\\2.4\\2.7\\3.0\\2.2\\1.6\\1.2\\0.85\\0.65\\0.65\\
0.8\\0.8\\1.0\\1.5\\1.9\\2.15\\2.25\\2.2\\1.9\\1.4\\1.15\\1.0\\0.75\\0.65\\0.65\\
1.2\\1.2\\1.3\\1.7\\2.0\\2.3\\2.4\\2.6\\2.7\\1.9\\1.5\\1.3\\0.9\\0.65\\0.65\\
0.85\\0.85\\1.1\\1.7\\2.05\\2.2\\2.25\\2.15\\1.9\\1.4\\1.2\\1.05\\0.75\\0.65\\0.65\\
0.85\\0.85\\1.1\\1.7\\2.05\\2.2\\2.25\\2.15\\1.9\\1.4\\1.2\\1.05\\0.75\\0.65\\0.65\\
};
% speckled edges of the counts, left block
\addplot[fill=spkd,draw=none] coordinates {(16.736,78)(18.338,77)(18.423,72)(18.507,80)(18.732,79)(18.749,68)(18.929,68)(18.957,72)(19.069,70)(19.294,73)(19.631,78.6)(19.968,85)(20.070,92)(20.137,81)(20.306,75)(20.418,83)(20.576,83)(20.576,86)(20.418,86)(20.306,83)(20.137,86)(20.070,95)(19.968,88.5)(19.631,84)(19.294,78.6)(19.069,77.5)(18.957,81)(18.929,72)(18.749,74)(18.732,85)(18.507,85.7)(18.423,81)(18.338,85)(16.736,85.7)} \closedcycle;
\addplot[fill=spkb,draw=none] coordinates {(16.736,83)(18.338,82)(18.423,78)(18.507,83)(18.732,82)(18.749,71)(18.929,69)(18.957,78)(19.069,74.5)(19.294,75.6)(19.631,81)(19.968,85.5)(20.070,92)(20.137,83)(20.306,80)(20.418,83)(20.576,83)(20.576,86)(20.418,86)(20.306,83)(20.137,86)(20.070,95)(19.968,88.5)(19.631,84)(19.294,78.6)(19.069,77.5)(18.957,81)(18.929,72)(18.749,74)(18.732,85)(18.507,85.7)(18.423,81)(18.338,85)(16.736,85.7)} \closedcycle;
\addplot[fill=white,draw=none] coordinates {(16.6,100)(20.7,100)(20.7,86)(20.576,86)(20.418,86)(20.306,83)(20.137,86)(20.070,95)(19.968,88.5)(19.631,84)(19.294,78.6)(19.069,77.5)(18.957,81)(18.929,72)(18.749,74)(18.732,85)(18.507,85.7)(18.423,81)(18.338,85)(16.736,85.7)(16.6,85.7)} \closedcycle;
\addplot[fill=spk,draw=none] coordinates {(16.736,0)(16.736,15)(18.0,15)(18.0,0)} \closedcycle;
\addplot[fill=spk,draw=none] coordinates {(18.338,0)(18.338,6)(18.4,14)(18.5,12)(18.507,0)} \closedcycle;
\addplot[fill=spk,draw=none] coordinates {(18.732,0)(18.732,20)(18.957,24.7)(19.069,25.8)(19.21,23.6)(19.406,12.5)(19.52,0)} \closedcycle;
\addplot[fill=spkb,draw=none] coordinates {(18.8,0)(18.85,17)(19.07,20)(19.2,17)(19.3,6)(19.35,0)} \closedcycle;
\addplot[fill=spkc,draw=none] coordinates {(19.03,0)(19.05,12)(19.13,16)(19.2,9)(19.25,0)} \closedcycle;
\addplot[fill=spk,draw=none] coordinates {(20.154,0)(20.154,16)(20.576,16)(20.576,0)} \closedcycle;
% right block
\addplot[fill=spkd,draw=none] coordinates {(23.734,78)(25.70,77)(25.73,54)(25.882,54)(25.9,72)(26.264,70)(26.433,78.6)(27.557,78)(27.557,86)(26.433,85.7)(26.264,78)(25.9,78)(25.882,76)(25.758,78.6)(25.70,84)(23.734,86)} \closedcycle;
\addplot[fill=spkb,draw=none] coordinates {(23.734,83)(25.70,81)(25.758,75.6)(25.882,73)(25.9,75)(26.264,75)(26.433,82.7)(27.557,83)(27.557,86)(26.433,85.7)(26.264,78)(25.9,78)(25.882,76)(25.758,78.6)(25.70,84)(23.734,86)} \closedcycle;
\addplot[fill=white,draw=none] coordinates {(23.6,100)(27.7,100)(27.7,86)(27.557,86)(26.433,85.7)(26.264,78)(25.9,78)(25.882,76)(25.758,78.6)(25.70,84)(23.734,86)(23.6,86)} \closedcycle;
\addplot[fill=spk,draw=none] coordinates {(23.734,0)(23.734,15)(24.718,15)(24.718,0)} \closedcycle;
\addplot[fill=spk,draw=none] coordinates {(25.393,0)(25.477,21.4)(25.70,22.5)(25.927,22.5)(26.236,25.8)(26.433,10.4)(26.517,0)} \closedcycle;
\addplot[fill=spkb,draw=none] coordinates {(25.48,0)(25.55,15)(25.75,14)(26.0,17)(26.25,20)(26.38,8)(26.43,0)} \closedcycle;
\addplot[fill=spkc,draw=none] coordinates {(25.5,0)(25.55,7)(25.7,4)(25.75,0)} \closedcycle;
\addplot[fill=spkc,draw=none] coordinates {(26.05,0)(26.15,12)(26.28,14)(26.36,5)(26.4,0)} \closedcycle;
\addplot[fill=spk,draw=none] coordinates {(26.517,0)(26.6,9)(27.0,12)(27.3,14)(27.34,0)} \closedcycle;
\addplot[fill=spk,draw=none] coordinates {(27.37,0)(27.37,16)(27.557,16)(27.557,0)} \closedcycle;
% stray counts above the blocks
\addplot[speck=blue!70] coordinates {(16.933,122.7)(16.95,116.5)(16.95,94.5)(17.197,107.3)(17.495,96.3)(17.607,108.4)(17.675,95.2)(17.776,110.6)(17.832,95.2)(18.029,121.6)(18.293,103.5)(18.366,95.6)(18.406,122.7)(18.675,107.7)(18.72,115.7)(19.002,112.8)(19.024,112.8)(19.198,116.5)(19.255,108.4)(19.547,118.7)(19.564,114.3)(19.547,93.6)(19.564,98.9)(19.811,98)(19.884,94.7)(20.238,116.5)(20.474,120.5)(18.507,91.9)(18.619,89.7)(19.294,90.8)(19.406,90.8)(19.631,94.1)(19.772,91.9)(20.559,92.3)(20.446,89.7)(17.467,89.7)(17.158,88.4)
(23.774,116.5)(23.763,108.4)(24.157,113.9)(24.241,120.1)(24.342,106.2)(24.41,108.4)(24.494,121.6)(24.55,120.5)(24.511,114.6)(24.848,121.6)(24.792,95.2)(25.0,102.4)(25.112,106.6)(25.354,126.7)(25.421,119.4)(25.59,105.1)(25.719,113.9)(25.984,104.6)(26.068,102.4)(26.18,115.7)(26.293,123.8)(26.602,116.5)(26.799,100.7)(26.967,94.5)(27.164,122.7)(27.164,110.6)(27.333,95.8)(24.1,89.7)(24.522,90.8)(25.14,90.8)(25.759,90.8)(26.546,93)(27.052,90.8)
(18.85,8)(18.95,14)(19.05,18)(19.1,7)(19.2,12)(19.3,4)(25.6,5)(25.8,8)(25.9,12)(26.0,6)(26.2,9)(26.3,3)(26.1,15)};
% gaps inside the speckle
\addplot[only marks,mark=square*,mark size=.7pt,color=white] coordinates {(16.8,3)(16.9,9)(17.0,5)(17.05,12)(17.15,2)(17.25,8)(17.3,13)(17.4,4)(17.5,10)(17.55,1.5)(17.65,6)(17.75,12)(17.8,3)(17.9,8)(17.95,13)(16.85,13)(17.1,7.5)(17.35,6)(17.6,11)(17.85,5.5)
(23.8,4)(23.9,10)(24.0,2)(24.05,7)(24.15,13)(24.2,4)(24.3,9)(24.35,1.5)(24.45,6)(24.5,12)(24.6,3)(24.65,9)(23.85,13)(24.1,5)
(26.6,3)(26.7,6)(26.8,2)(26.9,8)(27.0,4)(27.1,9)(27.2,2)(27.25,6)(27.42,5)(27.5,11)(27.45,2)
(20.2,4)(20.25,11)(20.32,7)(20.4,2)(20.45,12)(20.52,6)
(16.8,84)(16.95,82.5)(17.1,84.5)(17.3,83)(17.5,85)(17.7,82)(17.9,84)(18.1,83)(18.25,85)(23.8,84)(24,82.5)(24.2,85)(24.4,83)(24.6,84.5)(24.8,82)(25,84)(25.2,83)(25.4,85)(25.6,82.5)(26.5,84)(26.7,82)(26.9,85)(27.1,83)(27.3,84.5)(27.5,82)
(24.044,66.5)(24.044,50.4)(24.044,17.8)(23.82,10.8)(23.9,8)};
\end{axis}
\end{tikzpicture}
\end{document}
